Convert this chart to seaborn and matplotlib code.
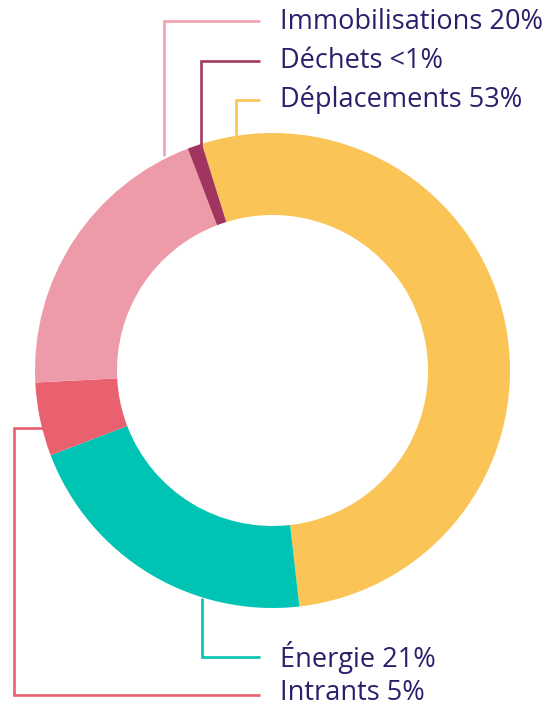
import matplotlib
matplotlib.use("Agg")
import matplotlib.pyplot as plt
import seaborn as sns

# Emission shares (%) by source, in drawing order (clockwise from the top)
categories = ["Déplacements", "Énergie", "Intrants", "Immobilisations", "Déchets"]
shares = [53, 21, 5, 20, 1]
labels = ["Déplacements 53%", "Énergie 21%", "Intrants 5%", "Immobilisations 20%", "Déchets <1%"]
colors = ["#FBC457", "#00C4B3", "#E9616F", "#EE9BA9", "#A0365F"]

sns.set_theme(style="white")
plt.rcParams["font.family"] = ["Open Sans", "DejaVu Sans"]

W, H = 555, 707
fig = plt.figure(figsize=(W / 100, H / 100), dpi=100)
ax = fig.add_axes([0, 0, 1, 1])

cx, cy = 272.5, H - 370.5
r_out, ring = 237.5, 82

ax.pie(shares, colors=colors, center=(cx, cy), radius=r_out,
       startangle=107.3, counterclock=False,
       wedgeprops=dict(width=ring, linewidth=0), frame=True)
ax.set_xlim(0, W)
ax.set_ylim(0, H)
ax.set_aspect("equal")
ax.axis("off")

text_color = "#2D1E6B"
lw = 1.9

def leader(pts, color):
    xs = [p[0] for p in pts]
    ys = [H - p[1] for p in pts]
    ax.plot(xs, ys, color=color, lw=lw, solid_capstyle="butt",
            solid_joinstyle="miter", zorder=1)

# leader paths in pixel space (x, y from top)
paths = {
    "Immobilisations": [(164, 156), (164, 21), (260, 21)],
    "Déchets": [(201, 150), (201, 61), (260, 61)],
    "Déplacements": [(236, 137), (236, 100), (260, 100)],
    "Énergie": [(202, 598), (202, 657), (260, 657)],
    "Intrants": [(45, 428), (14, 428), (14, 695), (260, 695)],
}
line_colors = {
    "Immobilisations": "#F0A3B2",
    "Déchets": "#A33A63",
    "Déplacements": "#FBC457",
    "Énergie": "#00C4B3",
    "Intrants": "#E9616F",
}
text_y = {"Immobilisations": 22, "Déchets": 61, "Déplacements": 100,
          "Énergie": 657, "Intrants": 693}

for cat, lab in zip(categories, labels):
    leader(paths[cat], line_colors[cat])
    ax.text(280, H - text_y[cat], lab, color=text_color, fontsize=19.5,
            va="center", ha="left")

fig.savefig("out.png", dpi=100)
